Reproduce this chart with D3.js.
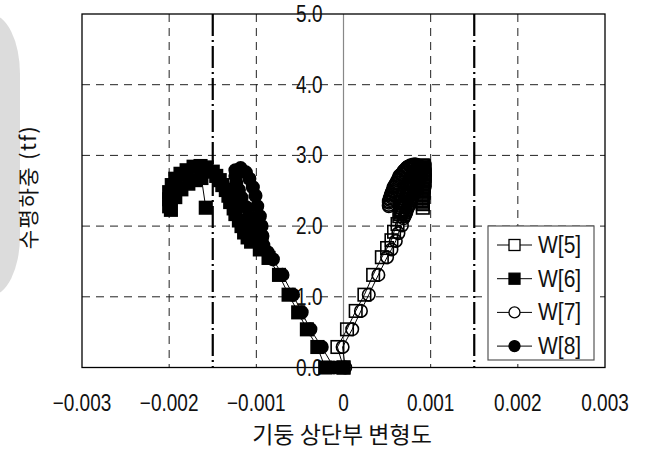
<!DOCTYPE html>
<html>
<head>
<meta charset="utf-8">
<style>
  body { margin: 0; background: #fff; }
  svg { display: block; }
  text { font-family: "Liberation Sans", Arial, sans-serif; fill: #111; }
  .kr { font-family: "Noto Sans CJK KR", sans-serif; }
</style>
</head>
<body>
<svg id="chart" width="645" height="450"></svg>
<script src="https://d3js.org/d3.v7.min.js"></script>
<script>
// axis ticks
var xTicks = [-0.003, -0.002, -0.001, 0, 0.001, 0.002, 0.003];
var xTickLabels = ["\u22120.003", "\u22120.002", "\u22120.001", "0", "0.001", "0.002", "0.003"];
var yTicks = [0, 1, 2, 3, 4, 5];
var yTickLabels = ["0.0", "1.0", "2.0", "3.0", "4.0", "5.0"];
var yieldLines = [-0.0015, 0.0015];

var seriesNames = ["W[5]", "W[6]", "W[7]", "W[8]"];

// strain, load (tf)
var w5 = [[0,0],[-0.00007,0.29],[0.00004,0.54],[0.00014,0.80],[0.00024,1.03],[0.00034,1.31],
  [0.00044,1.56],[0.00050,1.69],[0.00055,1.80],[0.00058,1.92],[0.00062,2.03],[0.00064,2.14],
  [0.00065,2.17],[0.00066,2.19],[0.00067,2.22],[0.00067,2.24],[0.00068,2.27],[0.00069,2.29],
  [0.00070,2.32],[0.00070,2.34],[0.00071,2.37],[0.00072,2.39],[0.00073,2.42],[0.00073,2.44],
  [0.00074,2.46],[0.00075,2.48],[0.00076,2.51],[0.00077,2.53],[0.00078,2.55],[0.00078,2.57],
  [0.00079,2.59],[0.00080,2.61],[0.00081,2.63],[0.00081,2.65],[0.00082,2.67],[0.00083,2.69],
  [0.00084,2.71],[0.00084,2.73],[0.00085,2.75],[0.00086,2.77],[0.00087,2.79],[0.00087,2.80],
  [0.00088,2.82],[0.00089,2.83],[0.00090,2.85],[0.00091,2.86],[0.00092,2.85],[0.00092,2.83],
  [0.00093,2.81],[0.00093,2.79],[0.00092,2.77],[0.00092,2.75],[0.00093,2.73],[0.00093,2.71],
  [0.00092,2.69],[0.00092,2.67],[0.00093,2.65],[0.00093,2.63],[0.00092,2.61],[0.00092,2.59],
  [0.00092,2.57],[0.00092,2.55],[0.00091,2.53],[0.00091,2.51],[0.00092,2.49],[0.00092,2.47],
  [0.00091,2.45],[0.00091,2.43],[0.00091,2.41],[0.00091,2.39],[0.00090,2.37],[0.00090,2.35],
  [0.00091,2.33],[0.00091,2.31],[0.00091,2.26]];
var w6 = [[0,0],[-0.00021,0],[-0.00030,0.29],[-0.00042,0.54],[-0.00052,0.78],[-0.00063,1.03],
  [-0.00074,1.31],[-0.00086,1.55],[-0.00096,1.67],[-0.00106,1.78],[-0.00110,1.84],[-0.00114,1.91],
  [-0.00117,2.00],[-0.00120,2.08],[-0.00124,2.17],[-0.00126,2.25],[-0.00130,2.34],[-0.00132,2.43],
  [-0.00135,2.51],[-0.00139,2.58],[-0.00142,2.65],[-0.00146,2.71],[-0.00150,2.77],[-0.00157,2.83],
  [-0.00164,2.85],[-0.00172,2.84],[-0.00180,2.79],[-0.00187,2.74],[-0.00193,2.67],[-0.00197,2.58],
  [-0.00200,2.48],[-0.00200,2.38],[-0.00200,2.28],[-0.00198,2.23],[-0.00193,2.41],[-0.00186,2.52],
  [-0.00178,2.60],[-0.00170,2.65],[-0.00163,2.68],[-0.00158,2.26]];
var w7 = [[0.00002,0],[-0.00001,0.29],[0.00010,0.54],[0.00020,0.80],[0.00029,1.03],[0.00040,1.31],
  [0.00050,1.56],[0.00055,1.67],[0.00060,1.79],[0.00063,1.90],[0.00067,2.01],[0.00069,2.11],
  [0.00070,2.14],[0.00071,2.16],[0.00072,2.19],[0.00072,2.21],[0.00073,2.24],[0.00074,2.26],
  [0.00075,2.29],[0.00076,2.31],[0.00077,2.34],[0.00077,2.36],[0.00078,2.39],[0.00079,2.41],
  [0.00080,2.44],[0.00081,2.46],[0.00082,2.49],[0.00083,2.51],[0.00084,2.54],[0.00084,2.56],
  [0.00085,2.59],[0.00086,2.61],[0.00087,2.64],[0.00087,2.66],[0.00088,2.69],[0.00088,2.71],
  [0.00089,2.74],[0.00089,2.76],[0.00089,2.79],[0.00089,2.81],[0.00088,2.83],[0.00087,2.84],
  [0.00086,2.85],[0.00085,2.86],[0.00083,2.87],[0.00082,2.87],[0.00080,2.87],[0.00079,2.86],
  [0.00077,2.86],[0.00076,2.85],[0.00074,2.84],[0.00073,2.83],[0.00072,2.82],[0.00071,2.80],
  [0.00070,2.79],[0.00069,2.78],[0.00068,2.76],[0.00067,2.74],[0.00066,2.73],[0.00064,2.71],
  [0.00064,2.69],[0.00063,2.67],[0.00062,2.65],[0.00061,2.62],[0.00060,2.60],[0.00059,2.58],
  [0.00058,2.56],[0.00057,2.54],[0.00057,2.51],[0.00056,2.49],[0.00055,2.47],[0.00055,2.45],
  [0.00054,2.43],[0.00054,2.41],[0.00053,2.39],[0.00053,2.37],[0.00052,2.35],[0.00052,2.33],
  [0.00052,2.30],[0.00052,2.28]];
var w8 = [[-0.00011,0],[-0.00025,0.29],[-0.00038,0.54],[-0.00048,0.78],[-0.00058,1.03],
  [-0.00070,1.31],[-0.00081,1.53],[-0.00087,1.63],[-0.00092,1.73],[-0.00093,1.86],[-0.00094,2.00],
  [-0.00096,2.14],[-0.00099,2.28],[-0.00101,2.43],[-0.00104,2.55],[-0.00108,2.67],[-0.00112,2.76],
  [-0.00118,2.82],[-0.00124,2.79],[-0.00124,2.71],[-0.00123,2.61],[-0.00120,2.51],[-0.00117,2.40],
  [-0.00112,2.27],[-0.00108,2.14],[-0.00103,2.03],[-0.00099,1.92],[-0.00094,1.80]];

var svg = d3.select("#chart");
var pLeft = 82, pRight = 605, pTop = 14, pBottom = 367.5;

var x = d3.scaleLinear().domain([-0.003, 0.003]).range([pLeft, pRight]);
var y = d3.scaleLinear().domain([0, 5]).range([pBottom, pTop]);

// grey shape at the left edge
svg.append("rect")
  .attr("x", -40).attr("y", 14).attr("width", 60).attr("height", 282)
  .attr("rx", 30).attr("ry", 60)
  .attr("fill", "#dcdcdc");

// grid
svg.append("g").selectAll("line")
  .data(yTicks.filter(function(d) { return d > 0 && d < 5; }))
  .enter().append("line")
  .attr("x1", pLeft).attr("x2", pRight)
  .attr("y1", function(d) { return y(d); }).attr("y2", function(d) { return y(d); })
  .attr("stroke", "#222").attr("stroke-width", 1).attr("stroke-dasharray", "8,6");

svg.append("g").selectAll("line")
  .data(xTicks.filter(function(d) { return d != 0 && Math.abs(d) < 0.003; }))
  .enter().append("line")
  .attr("x1", function(d) { return x(d); }).attr("x2", function(d) { return x(d); })
  .attr("y1", pTop).attr("y2", pBottom)
  .attr("stroke", "#222").attr("stroke-width", 1).attr("stroke-dasharray", "8,6");

// zero line
svg.append("line")
  .attr("x1", x(0)).attr("x2", x(0)).attr("y1", pTop).attr("y2", pBottom)
  .attr("stroke", "#888").attr("stroke-width", 1.2);

// yield strain lines
svg.append("g").selectAll("line")
  .data(yieldLines)
  .enter().append("line")
  .attr("x1", function(d) { return x(d); }).attr("x2", function(d) { return x(d); })
  .attr("y1", pTop).attr("y2", pBottom)
  .attr("stroke", "#000").attr("stroke-width", 2.2).attr("stroke-dasharray", "22,4,2,4");

// frame
svg.append("rect")
  .attr("x", pLeft).attr("y", pTop).attr("width", pRight - pLeft).attr("height", pBottom - pTop)
  .attr("fill", "none").attr("stroke", "#000").attr("stroke-width", 1.3);

// y tick labels sit beside the zero line
svg.append("g").selectAll("text")
  .data(yTicks)
  .enter().append("text")
  .attr("transform", function(d) { return "translate(" + (x(0) - 21) + "," + (y(d) + 8) + ") scale(0.95,1.15)"; })
  .attr("text-anchor", "end")
  .style("font-size", "20px")
  .text(function(d, i) { return yTickLabels[i]; });

// x tick labels
svg.append("g").selectAll("text")
  .data(xTicks)
  .enter().append("text")
  .attr("transform", function(d) { return "translate(" + x(d) + ",411) scale(0.95,1.15)"; })
  .attr("text-anchor", "middle")
  .style("font-size", "20px")
  .text(function(d, i) { return xTickLabels[i]; });

// titles
svg.append("text")
  .attr("class", "kr")
  .attr("x", 342).attr("y", 443)
  .attr("text-anchor", "middle")
  .style("font-size", "23px")
  .text("기둥 상단부 변형도");

svg.append("text")
  .attr("class", "kr")
  .attr("transform", "translate(36,187) rotate(-90)")
  .attr("text-anchor", "middle")
  .style("font-size", "21px")
  .style("letter-spacing", "1.5px")
  .text("수평하중 (tf)");

// series (open markers are hollow in the plot, white in the legend)
var styles = {
  "W[5]": { shape: "square", fill: "none", key: "#fff" },
  "W[6]": { shape: "square", fill: "#000", key: "#000" },
  "W[7]": { shape: "circle", fill: "none", key: "#fff" },
  "W[8]": { shape: "circle", fill: "#000", key: "#000" }
};
var allData = { "W[5]": w5, "W[6]": w6, "W[7]": w7, "W[8]": w8 };
var line = d3.line().x(function(d) { return x(d[0]); }).y(function(d) { return y(d[1]); });

function drawMarker(g, shape, fill, cx, cy, s, sw) {
  if (shape == "square") {
    g.append("rect")
      .attr("x", cx - s / 2).attr("y", cy - s / 2).attr("width", s).attr("height", s)
      .attr("fill", fill).attr("stroke", "#000").attr("stroke-width", sw);
  } else {
    g.append("circle")
      .attr("cx", cx).attr("cy", cy).attr("r", s / 2)
      .attr("fill", fill).attr("stroke", "#000").attr("stroke-width", sw);
  }
}

["W[5]", "W[7]", "W[6]", "W[8]"].forEach(function(name) {
  var data = allData[name], st = styles[name];
  var g = svg.append("g");
  g.append("path").datum(data)
    .attr("d", line).attr("fill", "none").attr("stroke", "#000").attr("stroke-width", 1);
  data.forEach(function(d) { drawMarker(g, st.shape, st.fill, x(d[0]), y(d[1]), 12.5, 1.6); });
});

// legend
var lg = svg.append("g");
lg.append("rect")
  .attr("x", 488).attr("y", 226).attr("width", 106).attr("height", 134)
  .attr("fill", "#fff").attr("stroke", "#555").attr("stroke-width", 1.2);
seriesNames.forEach(function(name, i) {
  var cy = 245 + i * 33.7, st = styles[name];
  lg.append("line").attr("x1", 497).attr("x2", 532).attr("y1", cy).attr("y2", cy)
    .attr("stroke", "#000").attr("stroke-width", 1);
  drawMarker(lg, st.shape, st.key, 514.5, cy, 11, 1.3);
  lg.append("text").attr("transform", "translate(538," + (cy + 8) + ") scale(1,1.15)")
    .style("font-size", "21px").text(name);
});
</script>
</body>
</html>
